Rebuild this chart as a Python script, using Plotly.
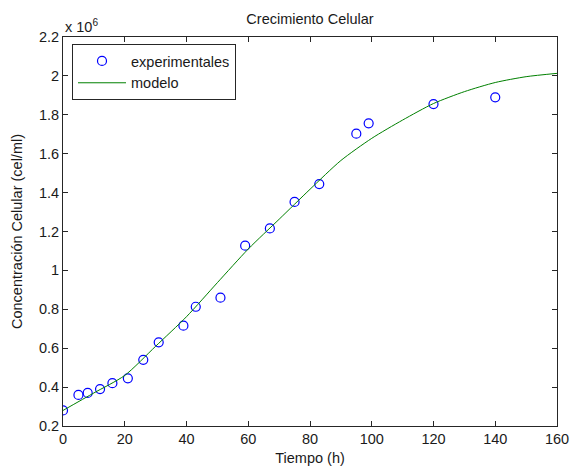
import plotly.graph_objects as go

# Experimental data (time in h, concentration in 1e6 cel/ml)
t_exp = [0, 5, 8, 12, 16, 21, 26, 31, 39, 43, 51, 59, 67, 75, 83, 95, 99, 120, 140]
c_exp = [0.28, 0.36, 0.37, 0.39, 0.42, 0.445, 0.54, 0.63, 0.716, 0.813, 0.86, 1.127,
         1.216, 1.352, 1.444, 1.703, 1.756, 1.855, 1.89]

# Model curve
t_mod = [0, 10, 20, 30, 40, 50, 60, 70, 80, 90, 100, 110, 120, 130, 140, 150, 160]
c_mod = [0.28, 0.37, 0.46, 0.61, 0.762, 0.937, 1.11, 1.263, 1.417, 1.565, 1.679,
         1.773, 1.858, 1.919, 1.966, 1.996, 2.013]

SCALE = 1e6
x_ticks = [0, 20, 40, 60, 80, 100, 120, 140, 160]
y_ticks = [0.2, 0.4, 0.6, 0.8, 1.0, 1.2, 1.4, 1.6, 1.8, 2.0, 2.2]
y_tick_text = ["0.2", "0.4", "0.6", "0.8", "1", "1.2", "1.4", "1.6", "1.8", "2", "2.2"]

FONT = "Liberation Sans, Arial, sans-serif"
FS = 14.5
TXT = "#1a1a1a"

fig = go.Figure()
fig.add_trace(go.Scatter(
    x=t_exp, y=[v * SCALE for v in c_exp], mode="markers", name="experimentales",
    marker=dict(symbol="circle-open", size=9, color="#0000ff", line=dict(width=1.2, color="#0000ff")),
))
fig.add_trace(go.Scatter(
    x=t_mod, y=[v * SCALE for v in c_mod], mode="lines", name="modelo",
    line=dict(color="#008000", width=1, shape="spline", smoothing=0.7),
))

axis_common = dict(
    showgrid=False, zeroline=False, showline=True, linecolor="#262626", linewidth=1,
    mirror="ticks", ticks="inside", ticklen=5, tickcolor="#262626", tickwidth=1,
    tickfont=dict(family=FONT, size=FS, color=TXT), automargin=False,
)

fig.update_layout(
    width=571, height=466,
    paper_bgcolor="white", plot_bgcolor="white",
    margin=dict(l=63, r=14, t=37, b=40),
    font=dict(family=FONT, size=FS, color=TXT),
    title=dict(text="Crecimiento Celular", x=310 / 571, xanchor="center",
               y=1 - 19 / 466, yanchor="middle", font=dict(family=FONT, size=FS, color=TXT)),
    xaxis=dict(range=[0, 160], tickvals=x_ticks, **axis_common,
               title=dict(text="Tiempo (h)", standoff=10, font=dict(family=FONT, size=FS, color=TXT))),
    yaxis=dict(range=[0.2 * SCALE, 2.2 * SCALE], tickvals=[v * SCALE for v in y_ticks],
               ticktext=y_tick_text, **axis_common,
               title=dict(text="Concentración Celular (cel/ml)", standoff=12,
                          font=dict(family=FONT, size=FS, color=TXT))),
    legend=dict(x=9 / 494, y=1 - 7 / 389, xanchor="left", yanchor="top",
                bgcolor="white", bordercolor="#262626", borderwidth=1,
                font=dict(family=FONT, size=FS, color=TXT),
                tracegroupgap=0, itemwidth=48),
    showlegend=True,
)

fig.add_annotation(
    text="x 10<sup>6</sup>", xref="paper", yref="paper", x=0, y=1, xanchor="left", yanchor="bottom",
    showarrow=False, yshift=0, font=dict(family=FONT, size=FS, color=TXT),
)

fig.write_html("out.html", config={"displayModeBar": False},
               post_script="document.body.style.margin='0';")
